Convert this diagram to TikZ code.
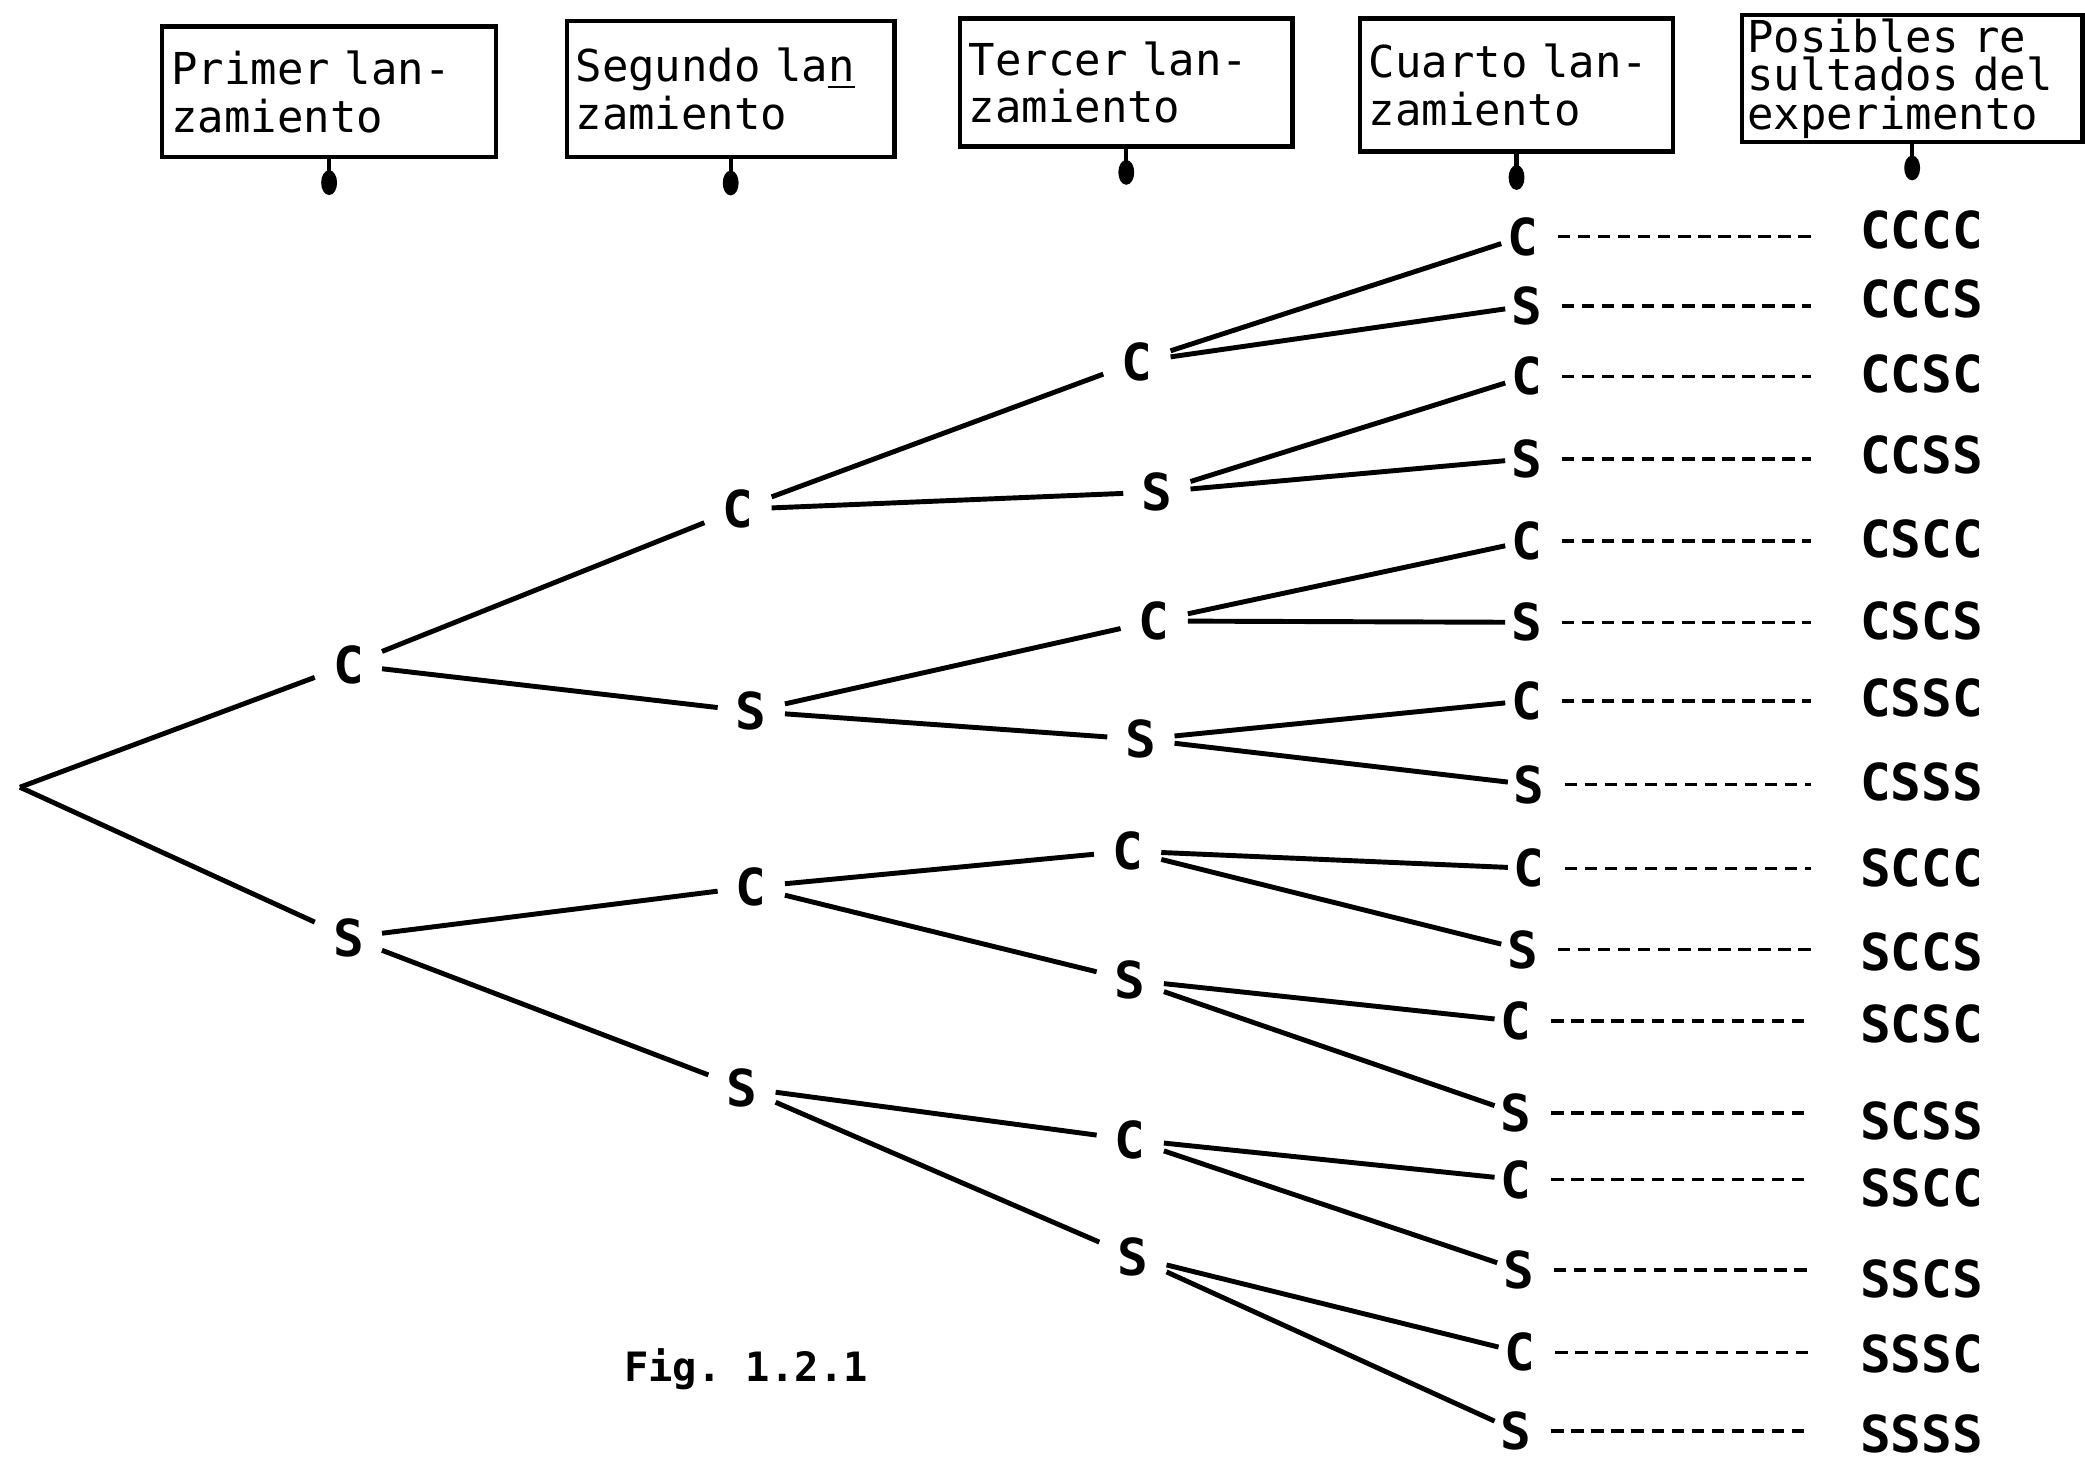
\documentclass[tikz,border=0pt]{standalone}
\usepackage{fontspec}
\usetikzlibrary{arrows.meta}
\newfontfamily\monofont{DejaVu Sans Mono}

\begin{document}
\frenchspacing
\begin{tikzpicture}[
  x=0.013297cm, y=-0.013297cm,
  hdr/.style={draw,line width=1.3pt,align=left,inner xsep=2.5pt,inner ysep=2pt,font=\fontsize{12.5}{13.5}\selectfont\monofont},
  pin/.style={line width=1.2pt,-{Circle[length=7pt,width=4.5pt]}},
  coin/.style={inner sep=5pt,font=\fontsize{14.5}{15}\selectfont\monofont\bfseries},
  leaf/.style={coin,inner sep=1.5pt},
  branch/.style={line width=1.4pt},
  lead/.style={line width=1pt,dash pattern=on 3.5pt off 2.2pt,shorten <=4pt},
  outcome/.style={inner sep=1pt,font=\fontsize{14.5}{15}\selectfont\monofont\bfseries}
]
\useasboundingbox (0,0) rectangle (1568,1099);

% cabeceras de cada lanzamiento
\node[hdr,minimum width=3.34cm,minimum height=1.30cm,text width=3.15cm] (h1) at (247.5,69) {Primer lan-\\zamiento};
\node[hdr,minimum width=3.26cm,minimum height=1.36cm,text width=3.1cm] (h2) at (549.5,67) {Segundo la\underline{n}\\zamiento};
\node[hdr,minimum width=3.32cm,minimum height=1.28cm,text width=3.15cm] (h3) at (847,62) {Tercer lan-\\zamiento};
\node[hdr,minimum width=3.10cm,minimum height=1.33cm,text width=2.95cm] (h4) at (1140.5,64) {Cuarto lan-\\zamiento};
\node[hdr,inner xsep=1.5pt,inner ysep=1pt,minimum width=3.40cm,minimum height=1.20cm,text width=3.3cm,font=\fontsize{12.5}{11}\selectfont\monofont] (h5) at (1438,59) {Posibles re\\sultados del\\experimento};
\foreach \h in {h1,h2,h3,h4,h5}
  \draw[pin] (\h.south) -- ++(0,27);

% arbol
\coordinate (t) at (15,592);
\foreach \p/\l/\x/\y in {C/C/262/500, S/S/262/705,
    CC/C/555/383, CS/S/565/535, SC/C/565/667, SS/S/558/818,
    CCC/C/855/272, CCS/S/870/370, CSC/C/868/467, CSS/S/858/556,
    SCC/C/848/640, SCS/S/850/737, SSC/C/850/857, SSS/S/852/945}
  \node[coin] (t\p) at (\x,\y) {\l};

% hojas y resultados
\coordinate (lim) at (1362,0);
\foreach \p/\l/\x/\y/\ry in {CCCC/C/1145/178/173, CCCS/S/1148/230/225,
    CCSC/C/1148/283/281, CCSS/S/1148/345/342, CSCC/C/1148/407/405,
    CSCS/S/1148/468/467, CSSC/C/1148/527/525, CSSS/S/1150/590/588,
    SCCC/C/1150/653/653, SCCS/S/1145/714/716, SCSC/C/1140/768/770,
    SCSS/S/1140/837/843, SSCC/C/1140/887/893, SSCS/S/1142/955/962,
    SSSC/C/1143/1017/1018, SSSS/S/1140/1076/1078} {
  \node[leaf] (t\p) at (\x,\y) {\l};
  \node[outcome] (o\p) at (1445,\ry) {\p};
  \draw[lead] (t\p.east) -- (t\p.east -| lim);
}

\draw[branch] (t) -- (tC);
\draw[branch] (t) -- (tS);
\foreach \p in {C,S,CC,CS,SC,SS,CCC,CCS,CSC,CSS,SCC,SCS,SSC,SSS}
  \draw[branch] (t\p) -- (t\p C) (t\p) -- (t\p S);

\node[font=\fontsize{11.5}{13}\selectfont\monofont\bfseries] (fig) at (561,1030) {Fig. 1.2.1};
\end{tikzpicture}
\end{document}
